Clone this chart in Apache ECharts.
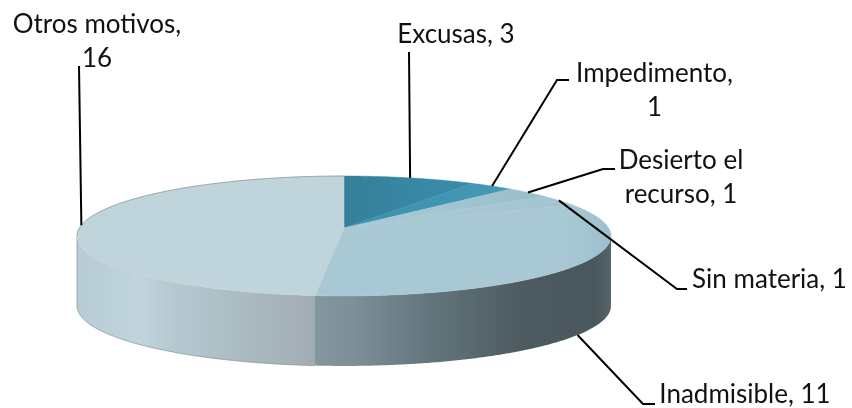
<!DOCTYPE html>
<html><head><meta charset="utf-8">
<style>html,body{margin:0;padding:0;background:#fff}#c{width:852px;height:408px}</style>
<script src="https://cdn.jsdelivr.net/npm/echarts@6/dist/echarts.min.js"></script>
</head><body><div id="c"></div>
<script>
var categories = ['Excusas', 'Impedimento', 'Desierto el recurso', 'Sin materia', 'Inadmisible', 'Otros motivos'];
var values = [3, 1, 1, 1, 11, 16];
var labelText = ['Excusas, 3', 'Impedimento,\n1', 'Desierto el\nrecurso, 1', 'Sin materia, 1', 'Inadmisible, 11', 'Otros motivos,\n16'];
var topStops = [
  [[0, '#357f9a'], [1, '#3b8dab']],
  [[0, '#3d90ad'], [1, '#4499b6']],
  [[0, '#a8c8d4'], [0.5, '#a3c5d2'], [1, '#99bdcb']],
  [[0, '#a8c8d4'], [0.6, '#a7c7d3'], [1, '#a2c3d0']],
  [[0, '#a8c8d4'], [0.85, '#a8c8d4'], [1, '#9cbecd']],
  [[0, '#c0d4dc'], [1, '#c0d4dc']]
];
var sideStops = {
  4: [[0, '#84979f'], [0.12, '#7d9099'], [0.4, '#62747b'], [0.7, '#4d5b61'], [0.95, '#4a575c'], [1, '#56656b']],
  5: [[0, '#b8ccd5'], [0.26, '#c0d4dc'], [0.42, '#b5c8d0'], [0.75, '#a9b8bf'], [1, '#a2adb2']]
};
// layout of the tilted pie and its labels
var CX = 344, CY = 228, R = 264.6, A = 58.9, K = 0.133, DEPTH = 70, EDGE = 97.6;
var labelPos = [[456, 35], [654.5, 91], [681, 178], [769.5, 280], [745, 395], [97, 42]];
var elbow = [[[409, 52]], [[569, 80], [557, 80]], [[615, 169], [603, 169]], [[687, 289], [677, 289]], [[655, 404], [643, 404]], [[79, 66]]];

var total = values.reduce(function (a, b) { return a + b; }, 0);
function proj(deg, dy) {
  var t = deg * Math.PI / 180, u = Math.sin(t), v = Math.cos(t), w = 1 + K * v;
  return [CX + R * u / w, CY - A * v / w + (dy || 0)];
}
function arc(a0, a1, dy) {
  var pts = [], n = Math.max(2, Math.ceil(Math.abs(a1 - a0) * 2));
  for (var i = 0; i <= n; i++) pts.push(proj(a0 + (a1 - a0) * i / n, dy));
  return pts;
}
function grad(stops) {
  return { type: 'linear', x: 0, y: 0, x2: 1, y2: 0, colorStops: stops.map(function (s) { return { offset: s[0], color: s[1] }; }) };
}
var starts = [], acc = 0;
values.forEach(function (v) { starts.push(acc / total * 360); acc += v; });
function span(i) { return [starts[i], starts[i] + values[i] / total * 360]; }

function renderSide(params, api) {
  var i = params.dataIndex, s = span(i);
  var a0 = Math.max(s[0], EDGE), a1 = Math.min(s[1], 360 - EDGE);
  if (a1 <= a0) return { type: 'group', children: [] };
  var pts = arc(a0, a1, 0).concat(arc(a1, a0, DEPTH));
  var kids = [{ type: 'polygon', shape: { points: pts }, style: { fill: grad(sideStops[i]) } }];
  if (i === 5) kids.push({ type: 'polyline', shape: { points: arc(a0, a1, DEPTH).concat([proj(a1, 0)]) },
    style: { fill: 'none', stroke: 'rgba(125,135,140,0.8)', lineWidth: 0.8 } });
  return { type: 'group', children: kids };
}
function renderTop(params, api) {
  var i = params.dataIndex, s = span(i);
  var pts = [[CX, CY]].concat(arc(s[0], s[1], 0));
  var fill = grad(topStops[i]);
  var kids = [{ type: 'polygon', shape: { points: pts }, style: { fill: fill, stroke: fill, lineWidth: 0.5 } }];
  if (i === 5) kids.push({ type: 'polyline', shape: { points: arc(360 - EDGE, 360, 0) },
    style: { fill: 'none', stroke: 'rgba(125,140,146,0.85)', lineWidth: 0.8 } });
  return { type: 'group', children: kids };
}
function renderLabel(params, api) {
  var i = params.dataIndex, s = span(i), mid = (s[0] + s[1]) / 2;
  var base = (mid > 90 && mid < 270) ? proj(mid, DEPTH) : proj(mid, 0);
  var line = [base].concat(elbow[i].slice().reverse());
  return { type: 'group', children: [
    { type: 'polyline', shape: { points: line }, style: { fill: 'none', stroke: '#000', lineWidth: 2 } },
    { type: 'text', x: labelPos[i][0], y: labelPos[i][1], style: {
      text: labelText[i], fill: '#111', font: '26px Lato', lineHeight: 34, align: 'center', verticalAlign: 'middle' } }
  ] };
}
var rows = values.map(function (v, i) { return { name: categories[i], value: v }; });
var chart = echarts.init(document.getElementById('c'), null, { width: 852, height: 408, renderer: 'canvas' });
chart.setOption({
  animation: false,
  series: [
    { type: 'custom', coordinateSystem: 'none', renderItem: renderSide, data: rows, z: 1, silent: true },
    { type: 'custom', coordinateSystem: 'none', renderItem: renderTop, data: rows, z: 2, silent: true },
    { type: 'custom', coordinateSystem: 'none', renderItem: renderLabel, data: rows, z: 3, silent: true }
  ]
});
</script></body></html>
